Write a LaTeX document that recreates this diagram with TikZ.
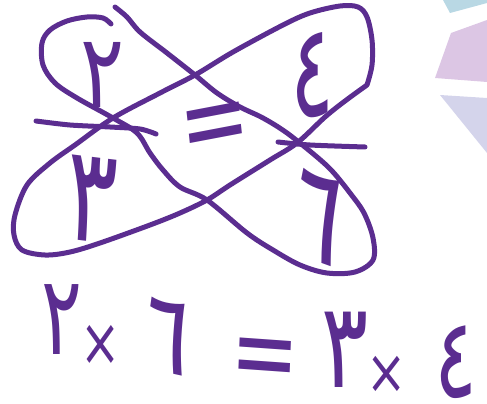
\documentclass[tikz,border=0pt]{standalone}
\usepackage{fontspec}
\usepackage{xcolor}
\newfontfamily\arabicfont[Script=Arabic]{DejaVu Sans}
\definecolor{pen}{HTML}{5B2D90}
\definecolor{wmblue}{HTML}{B9D8E4}
\definecolor{wmpink}{HTML}{DCC6E4}
\definecolor{wmlav}{HTML}{D4D4EB}

\begin{document}
\begin{tikzpicture}[x=1pt, y=-1pt,
  ink/.style={draw=pen, line width=5pt, line cap=round, line join=round},
  dig/.style={text=pen, inner sep=0pt, font=\arabicfont\fontsize{#1}{#1}\selectfont},
  tall/.style={yscale=#1, transform shape},
  wm/.style={draw=none, fill=#1}]
  \useasboundingbox (0,0) rectangle (487,404);

  % faded logo pieces on the right edge
  \fill[wm=wmblue] (443,0) -- (487,0) -- (487,3) -- (450,13) -- cycle;
  \fill[wm=wmpink] (451,33) -- (487,20) -- (487,82) -- (435,78) -- cycle;
  \fill[wm=wmlav]  (440,95) -- (487,98) -- (487,153) -- cycle;

  % the two crossed loops
  \draw[ink] plot[smooth, tension=0.55] coordinates {(115,7) (127,17) (140,32) (167,53) (195,75)
    (217,93) (240,107) (263,118) (287,133) (317,157) (333,172) (350,193) (364,213) (373,238)
    (373,260) (355,272) (327,273) (300,265) (273,250) (247,233) (207,200) (180,187) (163,170)
    (150,153) (137,133) (113,118) (77,98) (55,83) (43,65) (42,43) (50,30) (67,21) (87,17)
    (103,18) (111,24)};
  \draw[ink] plot[smooth, tension=0.55] coordinates {(367,85) (345,101) (325,117) (297,143)
    (270,160) (230,185) (207,200) (180,213) (150,225) (100,243) (70,252) (45,255) (22,250)
    (14,235) (15,215) (27,185) (50,163) (75,145) (113,118) (160,93) (195,75) (233,52) (283,25)
    (310,13) (340,6) (358,7) (367,17) (372,40) (372,65) (367,85)};

  % the two cut strokes
  \draw[ink] plot[smooth] coordinates {(36,121) (70,125) (110,127) (140,129) (156,134)};
  \draw[ink] plot[smooth] coordinates {(278,142) (310,145) (365,147)};

  % numbers in the loops
  \node[dig=82, tall=1.25] (two)   at (103,75)  {٢};
  \node[dig=82, tall=1.6]  (four)  at (313,75)  {٤};
  \node[dig=95, tall=1.4, rotate=-5]  (three) at (92,200)  {٣};
  \node[dig=100, tall=1.35, rotate=-15] (six) at (318,217) {٦};
  \node[dig=84, tall=1.35, rotate=8]  (eq)    at (216,132) {=};

  % the equation below
  \node[dig=76, tall=1.45] (etwo) at (62,320) {٢};
  \node[dig=48, tall=1.4]  (ex1)  at (101,345) {×};
  \node[dig=90, tall=1.25, rotate=-10] (esix) at (167,337) {٦};
  \node[dig=82, tall=1.35, rotate=-3]  (eeq)  at (265,365) {=};
  \node[dig=88, tall=1.35] (ethree) at (345,350) {٣};
  \node[dig=48, tall=1.3]  (ex2)  at (387,375) {×};
  \node[dig=80, tall=1.4]  (efour) at (456,362) {٤};
\end{tikzpicture}
\end{document}
